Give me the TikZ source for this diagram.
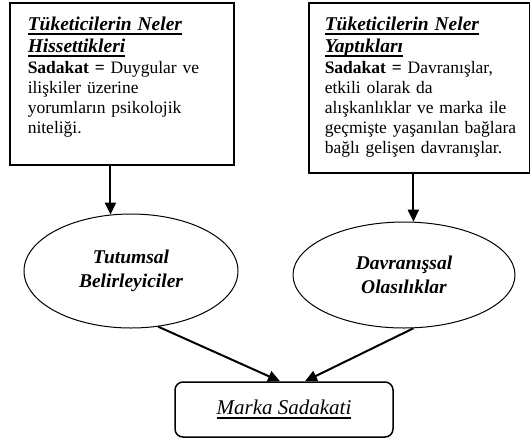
\documentclass[tikz,border=0pt]{standalone}
\usepackage{fontspec}
\setmainfont{Liberation Serif}
\usetikzlibrary{positioning,calc,arrows.meta,shapes.geometric}

\newcommand{\cizgi}[1]{\leavevmode\setbox0\hbox{#1}\rlap{\rule[-4pt]{\wd0}{1.5pt}}\box0}
\newcommand{\baslik}[1]{\cizgi{\fontsize{19.5}{22}\selectfont\textbf{\textit{#1}}}}

\begin{document}
\begin{tikzpicture}[x=1pt,y=-1pt,
    font=\fontsize{17.5}{20}\selectfont,
    box/.style={rectangle,draw,line width=1.5pt,anchor=north west,align=left,inner ysep=2pt,text height=26pt},
    oval/.style={ellipse,draw,line width=1pt,inner sep=0pt,align=center,font=\fontsize{19.5}{24}\selectfont\bfseries\itshape},
    arr/.style={line width=2pt,-{Triangle[length=12pt,width=11pt]}}]

\useasboundingbox (0,0) rectangle (530,440);

% Boxes
\node[box,inner xsep=18pt,text width=188pt,text depth=132pt] (lbox) at (9,2) {\baslik{Tüketicilerin Neler}\\[2pt] \baslik{Hissettikleri}\\[1pt] \textbf{Sadakat =} Duygular ve\\ ilişkiler üzerine\\ yorumların psikolojik\\ niteliği.};
\node[box,inner xsep=16pt,text width=189pt,text depth=140pt] (rbox) at (308,2) {\baslik{Tüketicilerin Neler}\\[2pt] \baslik{Yaptıkları}\\[1pt] \textbf{Sadakat =} Davranışlar,\\ etkili olarak da\\ alışkanlıklar ve marka ile\\ \mbox{geçmişte yaşanılan bağlara}\\ bağlı gelişen davranışlar.};

% Ellipses
\node[oval,minimum width=214pt,minimum height=114pt] (lell) at (131,271) {Tutumsal\\ Belirleyiciler};
\node[oval,minimum width=222pt,minimum height=106pt] (rell) at (404,275) {Davranışsal\\ Olasılıklar};

% Result
\node[draw,rounded corners=8pt,line width=1.5pt,minimum width=218pt,minimum height=55pt,font=\fontsize{21}{20}\selectfont\itshape] (mbox) at (284,409.5) {\cizgi{Marka Sadakati}};

% Arrows
\draw[arr] (lell.110 |- lbox.south) -- (lell.110);
\draw[arr] (rell.80 |- rbox.south) -- (rell.80);
\draw[arr] (lell.296) -- ([xshift=-4pt]mbox.north);
\draw[arr] (rell.280) -- ([xshift=21pt]mbox.north);

\end{tikzpicture}
\end{document}
